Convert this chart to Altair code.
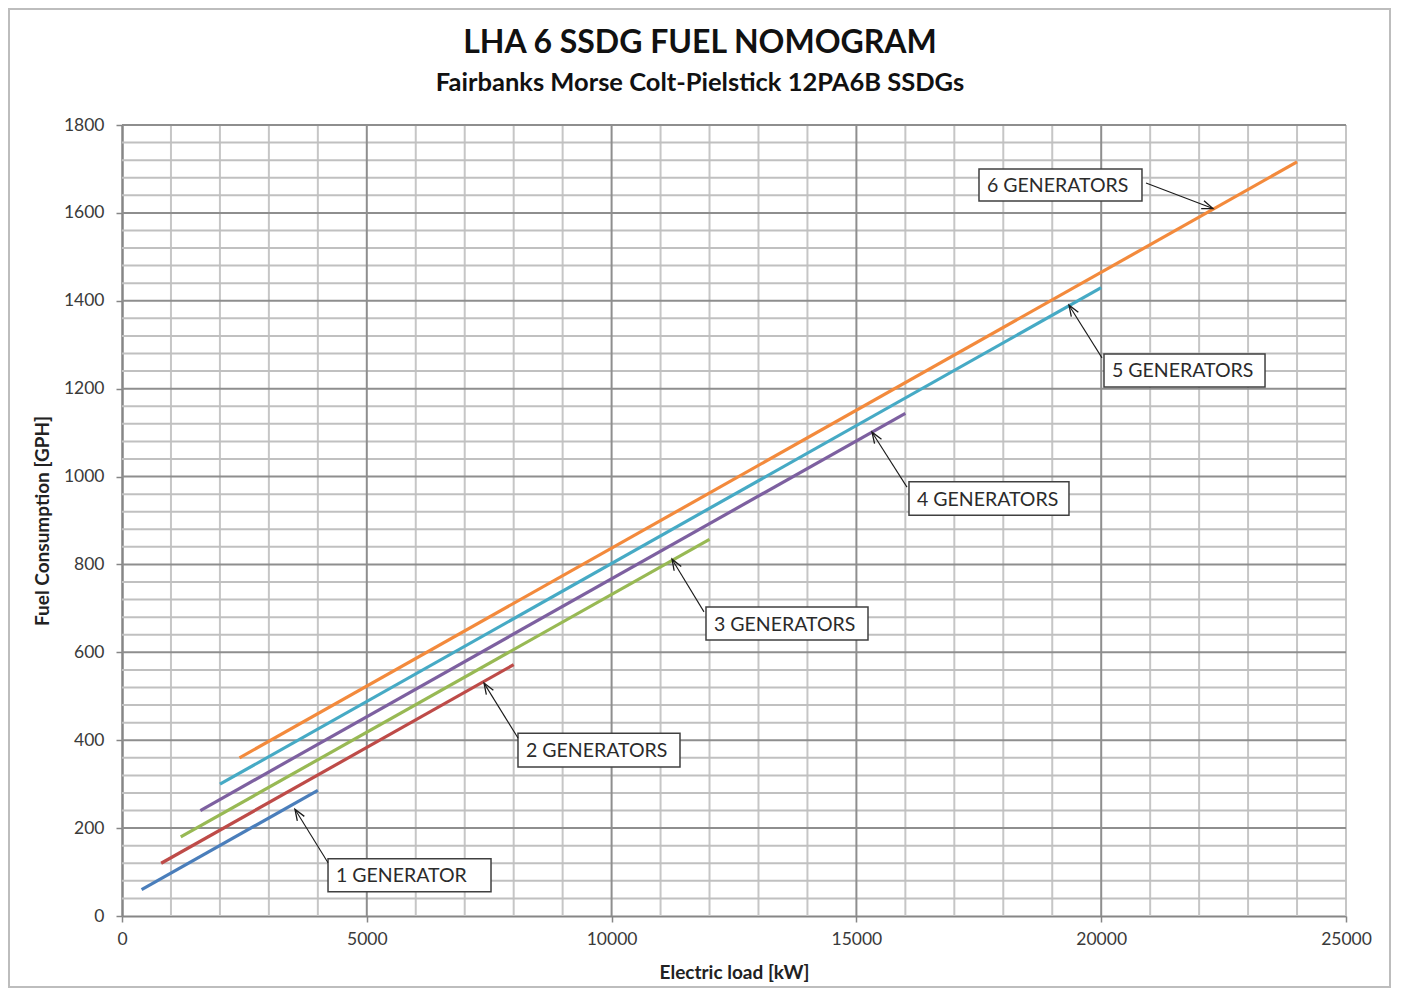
import altair as alt
import pandas as pd

# ---- data ----
generators = [1, 2, 3, 4, 5, 6]
series_names = ["1 GENERATOR", "2 GENERATORS", "3 GENERATORS", "4 GENERATORS", "5 GENERATORS", "6 GENERATORS"]
load_start = [400, 800, 1200, 1600, 2000, 2400]
load_end = [4000, 8000, 12000, 16000, 20000, 24000]
fuel_start = [60, 120, 180, 240, 300, 360]
fuel_end = [286, 572, 857, 1144, 1430, 1716]
colors = ["#4A7EBB", "#BE4B48", "#98B954", "#7D60A0", "#46AAC5", "#F38A3C"]

# annotation boxes (data units)
box_x1 = [4208, 8088, 11928, 16074, 20057, 17504]
box_x2 = [7537, 11397, 15237, 19342, 23346, 20833]
box_y1 = [55, 339, 628, 912, 1204, 1627]
box_y2 = [130, 416, 703, 988, 1279, 1700]
arrow_x1 = [4208, 8088, 11887, 16033, 20016, 20915]
arrow_y1 = [121, 405, 692, 976, 1270, 1668]
arrow_x2 = [3533, 7394, 11234, 15319, 19342, 22283]
arrow_y2 = [243, 530, 812, 1101, 1390, 1610]
arrow_angle = [328, 328, 329, 327, 328, 110]

x_major = list(range(0, 25001, 5000))
y_major = list(range(0, 1801, 200))
x_minor = [v for v in range(0, 25001, 1000) if v % 5000 != 0 or v == 25000]
y_minor = [v for v in range(0, 1801, 40) if v % 200 != 0]

title_text = "LHA 6 SSDG FUEL NOMOGRAM"
subtitle_text = "Fairbanks Morse Colt-Pielstick 12PA6B SSDGs"

FONT = "Lato"
TXT = "#3a3a3a"

rows = []
for g, n, xs, xe, ys, ye in zip(generators, series_names, load_start, load_end, fuel_start, fuel_end):
    rows.append({"g": g, "name": n, "load": xs, "fuel": ys})
    rows.append({"g": g, "name": n, "load": xe, "fuel": ye})
lines_df = pd.DataFrame(rows)

ann_df = pd.DataFrame({
    "name": series_names, "bx1": box_x1, "bx2": box_x2, "by1": box_y1, "by2": box_y2,
    "ax1": arrow_x1, "ay1": arrow_y1, "ax2": arrow_x2, "ay2": arrow_y2, "ang": arrow_angle,
})
ann_df["by_mid"] = (ann_df["by1"] + ann_df["by2"]) / 2

W, H = 1224, 791

xscale = alt.Scale(domain=[0, 25000], nice=False, zero=True)
yscale = alt.Scale(domain=[0, 1800], nice=False, zero=True)

x_axis = alt.Axis(
    values=x_major, format="d", grid=False, labelOverlap=False, labelFlush=False,
    tickColor="#868686", tickSize=6, tickWidth=1.5,
    domainColor="#868686", domainWidth=2,
    labelFont=FONT, labelFontSize=17.5, labelColor=TXT, labelPadding=8,
    title="Electric load [kW]", titleFont=FONT, titleFontSize=19, titleFontWeight="bold",
    titleColor="#222222", titlePadding=16,
)
y_axis = alt.Axis(
    values=y_major, format="d", grid=False, labelOverlap=False, labelFlush=False,
    tickColor="#868686", tickSize=6, tickWidth=1.5,
    domainColor="#868686", domainWidth=2.5,
    labelFont=FONT, labelFontSize=17.5, labelColor=TXT, labelPadding=12,
    title="Fuel Consumption [GPH]", titleFont=FONT, titleFontSize=19, titleFontWeight="bold",
    titleColor="#222222", titlePadding=11,
)

# grid lines
vminor = alt.Chart(pd.DataFrame({"v": x_minor})).mark_rule(color="#c6c6c6", strokeWidth=2).encode(
    x=alt.X("v:Q", scale=xscale, axis=x_axis))
vmajor = alt.Chart(pd.DataFrame({"v": x_major[1:-1]})).mark_rule(color="#8e8e8e", strokeWidth=2).encode(
    x=alt.X("v:Q", scale=xscale, axis=x_axis))
hminor = alt.Chart(pd.DataFrame({"v": y_minor})).mark_rule(color="#c0c0c0", strokeWidth=2).encode(
    y=alt.Y("v:Q", scale=yscale, axis=y_axis))
hmajor = alt.Chart(pd.DataFrame({"v": y_major[1:]})).mark_rule(color="#8e8e8e", strokeWidth=2).encode(
    y=alt.Y("v:Q", scale=yscale, axis=y_axis))

base_lines = alt.Chart(lines_df).mark_line(strokeWidth=3.2, strokeCap="butt").encode(
    x=alt.X("load:Q", scale=xscale, axis=x_axis),
    y=alt.Y("fuel:Q", scale=yscale, axis=y_axis),
    detail="g:N",
    color=alt.Color("name:N", scale=alt.Scale(domain=series_names, range=colors), legend=None),
)

ann = alt.Chart(ann_df)

boxes = ann.mark_rect(fill="white", stroke="#404040", strokeWidth=1.5).encode(
    x=alt.X("bx1:Q", scale=xscale, axis=x_axis), x2="bx2:Q",
    y=alt.Y("by1:Q", scale=yscale, axis=y_axis), y2="by2:Q"
)
labels = ann.mark_text(align="left", baseline="middle", dx=8, dy=1, font=FONT, fontSize=19.5, color="#2b2b2b").encode(
    x=alt.X("bx1:Q", scale=xscale, axis=x_axis), y=alt.Y("by_mid:Q", scale=yscale, axis=y_axis), text="name:N"
)
arrows = ann.mark_rule(color="#1a1a1a", strokeWidth=1.1).encode(
    x=alt.X("ax1:Q", scale=xscale, axis=x_axis), y=alt.Y("ay1:Q", scale=yscale, axis=y_axis), x2="ax2:Q", y2="ay2:Q"
)
heads = ann.mark_point(
    shape="M -0.6 1.6 L 0 0 L 0.6 1.6", filled=False, stroke="#1a1a1a", strokeWidth=1.3, size=190, opacity=1
).encode(x=alt.X("ax2:Q", scale=xscale, axis=x_axis), y=alt.Y("ay2:Q", scale=yscale, axis=y_axis),
         angle=alt.Angle("ang:Q", scale=None))

one = pd.DataFrame({"t": [title_text], "s": [subtitle_text]})
title_mark = alt.Chart(one).mark_text(
    font=FONT, fontSize=32, fontWeight="bold", color="#111111", align="center", baseline="middle"
).encode(text="t:N", x=alt.value(578), y=alt.value(-82))
subtitle_mark = alt.Chart(one).mark_text(
    font=FONT, fontSize=25.5, fontWeight="bold", color="#111111", align="center", baseline="middle"
).encode(text="s:N", x=alt.value(578), y=alt.value(-42))

frame = alt.Chart(pd.DataFrame({"k": [0]})).mark_rect(
    fill=None, stroke="#bdbdbd", strokeWidth=2
).encode(x=alt.value(-113), x2=alt.value(1268), y=alt.value(-116), y2=alt.value(862))

chart = alt.layer(
    frame, vminor, hminor, vmajor, hmajor, base_lines, boxes, arrows, heads, labels, title_mark, subtitle_mark
).properties(
    width=W, height=H,
    autosize=alt.AutoSizeParams(type="none"),
    padding={"left": 114, "top": 117, "right": 46, "bottom": 74},
).configure_view(stroke=None)

chart.save("out.html", embed_options={"renderer": "svg", "actions": False})
